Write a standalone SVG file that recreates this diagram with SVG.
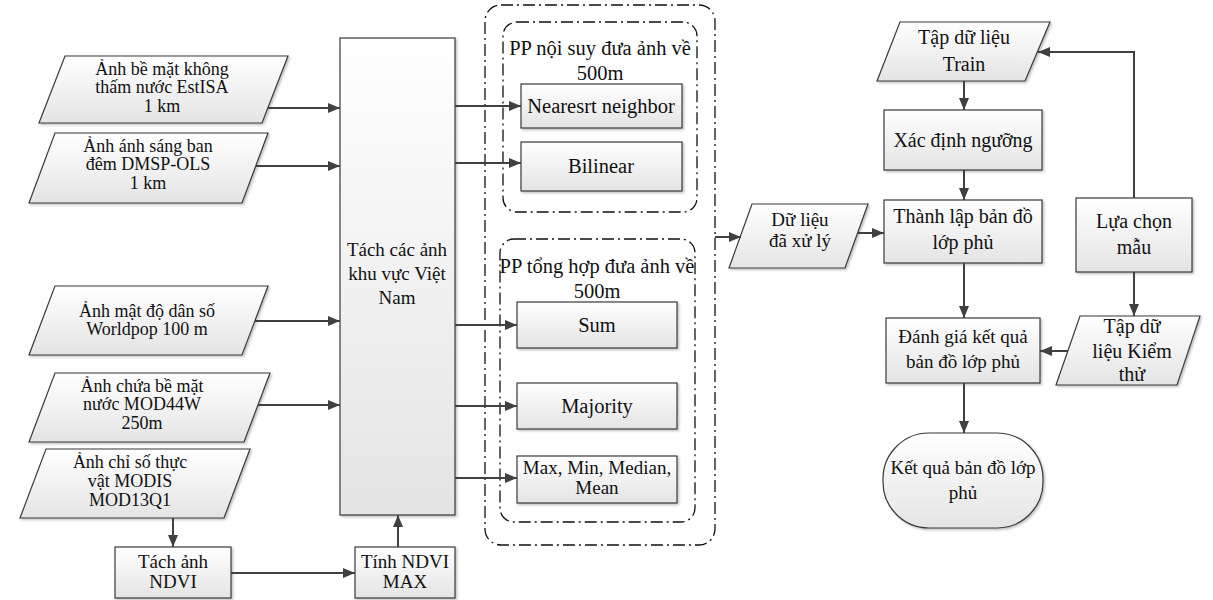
<svg xmlns="http://www.w3.org/2000/svg" width="1213" height="600" viewBox="0 0 1213 600">
<defs>
<linearGradient id="g" x1="0" y1="0" x2="0" y2="1">
<stop offset="0" stop-color="#ffffff"/>
<stop offset="1" stop-color="#e4e4e4"/>
</linearGradient>
<filter id="sh" x="-10%" y="-10%" width="130%" height="130%">
<feDropShadow dx="1.5" dy="1.5" stdDeviation="1" flood-color="#000" flood-opacity="0.25"/>
</filter>
<marker id="ah" viewBox="0 0 12 10" refX="12" refY="5" markerWidth="12" markerHeight="10" markerUnits="userSpaceOnUse" orient="auto">
<path d="M0,0 L12,5 L0,10 Z" fill="#404040"/>
</marker>
<style>
.n{fill:url(#g);stroke:#3a3a3a;stroke-width:1.2;filter:url(#sh)}
.t{font-family:"Liberation Serif","Times New Roman",serif;font-size:19px;fill:#111;text-anchor:middle}
.s{font-size:18px}
.m{font-size:20.5px}
.r{font-size:20px}
.c{fill:none;stroke:#404040;stroke-width:2;marker-end:url(#ah)}
.d{fill:none;stroke:#111;stroke-width:1.3;stroke-dasharray:12 4 2 4}
</style>
</defs>
<rect width="1213" height="600" fill="#fff"/>

<g id="groups">
<rect id="outer" class="d" x="485" y="5" width="230" height="540" rx="16"/>
<rect id="interp" class="d" x="503" y="22" width="194" height="190" rx="14"/>
<rect id="aggr" class="d" x="500" y="239" width="195" height="283" rx="14"/>
</g>

<g id="in1"><polygon class="n" points="65,56 288,56 262,123 39,123"/>
<text class="t s" x="162" y="75">Ảnh bề mặt không</text><text class="t s" x="162" y="93">thấm nước EstISA</text><text class="t s" x="162" y="112">1 km</text></g>
<g id="in2"><polygon class="n" points="55,133 268,133 242,203 29,203"/>
<text class="t s" x="148" y="152">Ảnh ánh sáng ban</text><text class="t s" x="148" y="170">đêm DMSP-OLS</text><text class="t s" x="148" y="189">1 km</text></g>
<g id="in3"><polygon class="n" points="55,286 268,286 242,355 29,355"/>
<text class="t s" x="147" y="317">Ảnh mật độ dân số</text><text class="t s" x="147" y="335">Worldpop 100 m</text></g>
<g id="in4"><polygon class="n" points="55,373 270,373 244,442 29,442"/>
<text class="t s" x="142" y="392">Ảnh chứa bề mặt</text><text class="t s" x="142" y="410">nước MOD44W</text><text class="t s" x="142" y="429">250m</text></g>
<g id="in5"><polygon class="n" points="46,449 250,449 224,518 20,518"/>
<text class="t s" x="130" y="468">Ảnh chỉ số thực</text><text class="t s" x="130" y="487">vật MODIS</text><text class="t s" x="130" y="506">MOD13Q1</text></g>

<g id="ndvi"><rect class="n" x="115" y="547" width="116" height="51"/>
<text class="t" x="173" y="568">Tách ảnh</text><text class="t" x="173" y="588">NDVI</text></g>
<g id="ndvimax"><rect class="n" x="355" y="547" width="100" height="51"/>
<text class="t" x="405" y="568">Tính NDVI</text><text class="t" x="405" y="588">MAX</text></g>

<g id="clip"><rect class="n" x="340" y="38" width="115" height="477"/>
<text class="t" x="397" y="256">Tách các ảnh</text><text class="t" x="397" y="280">khu vực Việt</text><text class="t" x="397" y="304">Nam</text></g>

<g id="interp-title"><text class="t m" x="600" y="55">PP nội suy đưa ảnh về</text><text class="t m" x="600" y="80">500m</text></g>
<g id="nn"><rect class="n" x="521" y="84" width="161" height="44"/><text class="t m" x="601" y="113">Nearesrt neighbor</text></g>
<g id="bil"><rect class="n" x="521" y="142" width="161" height="49"/><text class="t m" x="601" y="173">Bilinear</text></g>

<g id="aggr-title"><text class="t m" x="597" y="273">PP tổng hợp đưa ảnh về</text><text class="t m" x="597" y="298">500m</text></g>
<g id="sum"><rect class="n" x="517" y="302" width="160" height="46"/><text class="t m" x="597" y="332">Sum</text></g>
<g id="maj"><rect class="n" x="517" y="383" width="160" height="46"/><text class="t m" x="597" y="413">Majority</text></g>
<g id="mmm"><rect class="n" x="517" y="456" width="160" height="47"/><text class="t" x="597" y="474">Max, Min, Median,</text><text class="t" x="597" y="494">Mean</text></g>

<g id="data"><polygon class="n" points="752,204 868,204 845,268 729,268"/>
<text class="t" x="800" y="226">Dữ liệu</text><text class="t" x="800" y="247">đã xử lý</text></g>

<g id="train"><polygon class="n" points="900,22 1050,22 1025,81 877,81"/>
<text class="t r" x="964" y="44">Tập dữ liệu</text><text class="t r" x="964" y="71">Train</text></g>
<g id="thresh"><rect class="n" x="884" y="110" width="158" height="60"/><text class="t r" x="963" y="147">Xác định ngưỡng</text></g>
<g id="map"><rect class="n" x="884" y="200" width="158" height="63"/>
<text class="t r" x="963" y="223">Thành lập bản đồ</text><text class="t r" x="963" y="249">lớp phủ</text></g>
<g id="select"><rect class="n" x="1076" y="198" width="116" height="74"/>
<text class="t r" x="1134" y="228">Lựa chọn</text><text class="t r" x="1134" y="254">mẫu</text></g>
<g id="eval"><rect class="n" x="886" y="318" width="154" height="65"/>
<text class="t" x="963" y="343">Đánh giá kết quả</text><text class="t" x="963" y="368">bản đồ lớp phủ</text></g>
<g id="test"><polygon class="n" points="1080,316 1200,316 1177,385 1056,385"/>
<text class="t r" x="1132" y="333">Tập dữ</text><text class="t r" x="1132" y="358">liệu Kiểm</text><text class="t r" x="1132" y="381">thử</text></g>
<g id="result"><rect class="n" x="883" y="433" width="160" height="95" rx="46" ry="46"/>
<text class="t" x="963" y="474">Kết quả bản đồ lớp</text><text class="t" x="963" y="499">phủ</text></g>

<g id="connectors">
<line class="c" x1="268" y1="108" x2="340" y2="108"/>
<line class="c" x1="256" y1="166" x2="340" y2="166"/>
<line class="c" x1="255" y1="321" x2="340" y2="321"/>
<line class="c" x1="258" y1="405" x2="340" y2="405"/>
<line class="c" x1="173" y1="518" x2="173" y2="547"/>
<line class="c" x1="231" y1="573" x2="355" y2="573"/>
<line class="c" x1="398" y1="547" x2="398" y2="515"/>
<line class="c" x1="455" y1="106" x2="521" y2="106"/>
<line class="c" x1="455" y1="163" x2="521" y2="163"/>
<line class="c" x1="455" y1="325" x2="517" y2="325"/>
<line class="c" x1="455" y1="406" x2="517" y2="406"/>
<line class="c" x1="455" y1="478" x2="517" y2="478"/>
<line class="c" x1="715" y1="237" x2="741" y2="237"/>
<line class="c" x1="858" y1="233" x2="884" y2="233"/>
<line class="c" x1="964" y1="81" x2="964" y2="110"/>
<line class="c" x1="964" y1="170" x2="964" y2="200"/>
<line class="c" x1="964" y1="263" x2="964" y2="318"/>
<line class="c" x1="964" y1="383" x2="964" y2="433"/>
<polyline class="c" points="1134,198 1134,52 1038,52"/>
<line class="c" x1="1134" y1="272" x2="1134" y2="316"/>
<line class="c" x1="1068" y1="351" x2="1040" y2="351"/>
</g>
</svg>
